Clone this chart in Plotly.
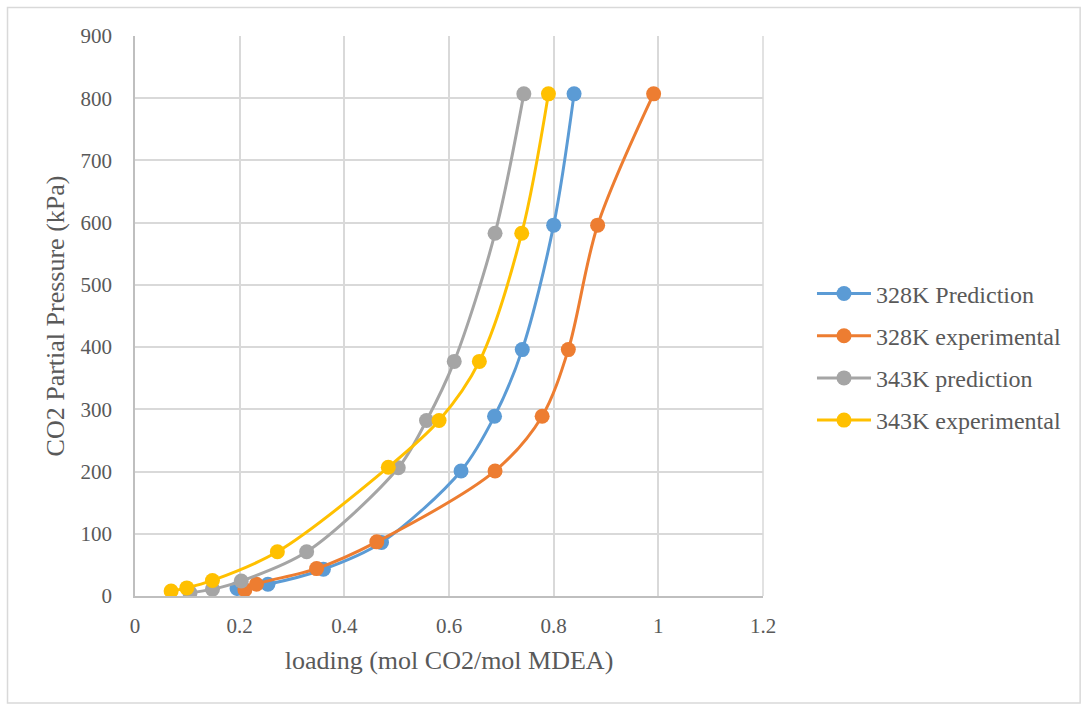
import plotly.graph_objects as go

x_328_pred = [0.195, 0.254, 0.360, 0.471, 0.623, 0.687, 0.740, 0.800, 0.839]
y_328_pred = [12, 19, 43, 86, 201, 289, 396, 596, 807]
x_328_exp = [0.210, 0.232, 0.347, 0.462, 0.688, 0.778, 0.828, 0.884, 0.991]
y_328_exp = [10, 19, 44, 87, 201, 289, 396, 596, 807]
x_343_pred = [0.105, 0.148, 0.203, 0.328, 0.503, 0.557, 0.610, 0.688, 0.743]
y_343_pred = [5, 11, 24, 71, 206, 282, 377, 583, 807]
x_343_exp = [0.069, 0.099, 0.148, 0.272, 0.484, 0.581, 0.658, 0.739, 0.790]
y_343_exp = [8, 13, 25, 71, 207, 282, 377, 583, 807]

series = [
    ("328K Prediction", x_328_pred, y_328_pred, "#5b9bd5"),
    ("328K experimental", x_328_exp, y_328_exp, "#ed7d31"),
    ("343K prediction", x_343_pred, y_343_pred, "#a5a5a5"),
    ("343K experimental", x_343_exp, y_343_exp, "#ffc000"),
]

fig = go.Figure()
for i, (name, xs, ys, c) in enumerate(series):
    fig.add_trace(go.Scatter(
        x=xs, y=ys, name=name, mode="lines+markers", legendgroup=f"g{i}",
        line=dict(color=c, width=3, shape="spline", smoothing=0.9),
        marker=dict(color=c, size=15),
    ))

font = "Liberation Serif, Times New Roman, serif"
grey = "#595959"
fig.update_layout(
    width=1081, height=704,
    margin=dict(l=135, r=318, t=36, b=108, autoexpand=False),
    paper_bgcolor="white", plot_bgcolor="white",
    font=dict(family=font, size=21, color=grey),
    xaxis=dict(
        range=[0, 1.2], dtick=0.2, tick0=0,
        showgrid=True, gridcolor="#d9d9d9", gridwidth=1.5,
        showline=True, linecolor="#bfbfbf", linewidth=1.5,
        zeroline=False, ticks="", ticklabelstandoff=10,
        tickfont=dict(size=21, family=font, color=grey),
        title=dict(text="loading (mol CO2/mol MDEA)", font=dict(size=26, family=font, color=grey), standoff=14),
    ),
    yaxis=dict(
        range=[0, 900], dtick=100, tick0=0,
        showgrid=True, gridcolor="#d9d9d9", gridwidth=1.5,
        showline=True, linecolor="#bfbfbf", linewidth=1.5,
        zeroline=False, ticks="", ticklabelstandoff=17,
        tickfont=dict(size=21, family=font, color=grey),
        title=dict(text="CO2 Partial Pressure (kPa)", font=dict(size=26, family=font, color=grey), standoff=8),
    ),
    legend=dict(
        x=1.078, y=0.427, xanchor="left", yanchor="middle",
        font=dict(size=24, family=font, color=grey),
        traceorder="grouped", tracegroupgap=8, itemwidth=54,
        bgcolor="rgba(0,0,0,0)",
    ),
    shapes=[dict(
        type="rect", xref="paper", yref="paper",
        x0=-0.203, x1=1.505, y0=-0.191, y1=1.051,
        line=dict(color="#d9d9d9", width=1.5), layer="below",
    ), dict(
        type="line", xref="paper", yref="paper",
        x0=1, x1=1, y0=0, y1=1, line=dict(color="#d9d9d9", width=1.5),
    )],
)

fig.write_html("out.html")
